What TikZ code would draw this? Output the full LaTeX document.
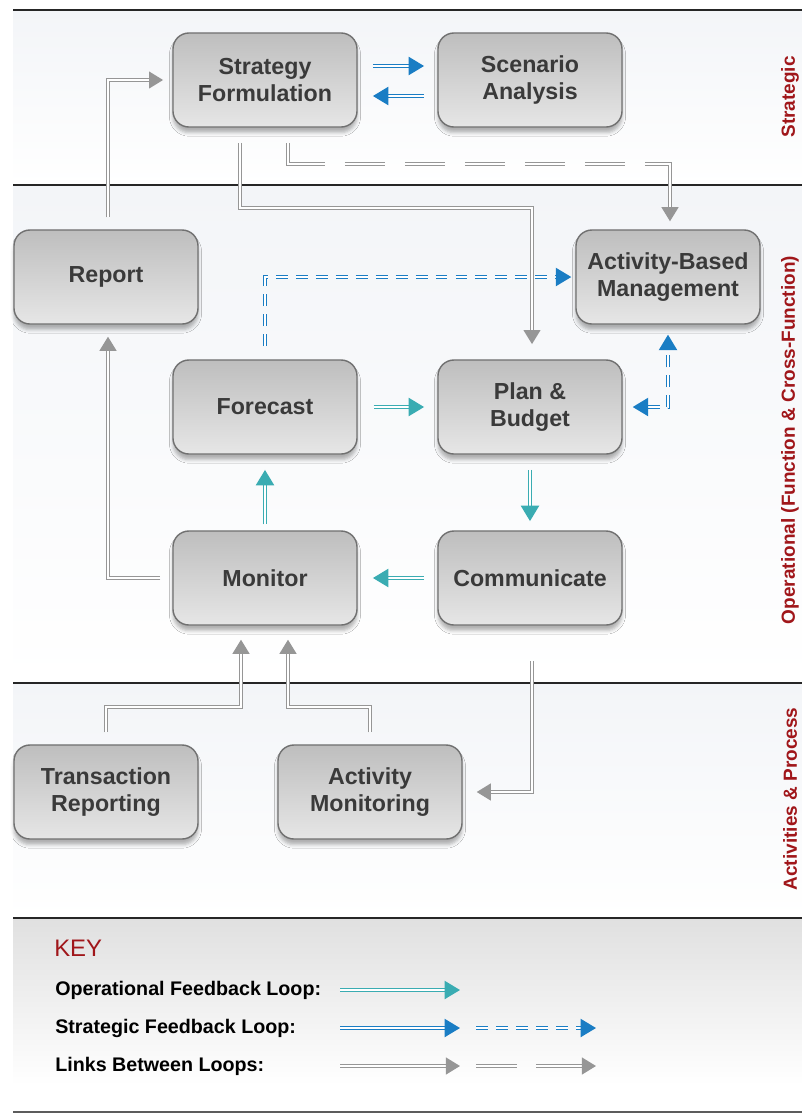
\documentclass[tikz,border=0pt]{standalone}
\usepackage{fontspec}
\setmainfont{Liberation Sans}
\usepackage{tikz}
\usetikzlibrary{arrows.meta,shadows.blur}

\definecolor{opercol}{RGB}{58,172,178}
\definecolor{stratcol}{RGB}{26,125,196}
\definecolor{linkcol}{RGB}{150,150,150}
\definecolor{lblred}{RGB}{160,22,26}
\definecolor{boxedge}{RGB}{112,112,112}
\definecolor{boxtop}{RGB}{190,190,190}
\definecolor{boxbot}{RGB}{230,230,230}
\definecolor{boxtext}{RGB}{58,58,58}
\definecolor{bandtop}{RGB}{243,245,248}
\definecolor{keytop}{RGB}{224,224,224}
\definecolor{rulecol}{RGB}{38,38,38}

\tikzset{
  box/.style={draw=boxedge, line width=1pt, rounded corners=0.4cm,
    top color=boxtop, bottom color=boxbot,
    minimum width=4.6cm, minimum height=2.35cm, align=center,
    font=\bfseries\fontsize{16.5}{19.8}\selectfont, text=boxtext,
    blur shadow={shadow xshift=0pt, shadow yshift=-4pt, shadow blur radius=2.5pt, shadow opacity=30}},
  dbl/.style={line width=1.05pt, double=white, double distance=1.2pt},
  operarrow/.style={dbl, draw=opercol, -{Triangle[length=11pt,width=13pt]}},
  stratarrow/.style={dbl, draw=stratcol, -{Triangle[length=11pt,width=13pt]}},
  linkarrow/.style={dbl, draw=linkcol, -{Triangle[length=10pt,width=12pt]}},
  stratdash/.style={stratarrow, dash pattern=on 8.5pt off 5.7pt},
  rulebar/.style={draw=rulecol, line width=2.1pt},
  band/.style={top color=bandtop, bottom color=white},
  side/.style={rotate=90, text=lblred, font=\bfseries\fontsize{13.5}{16}\selectfont},
  keytext/.style={anchor=west, inner sep=0pt, font=\bfseries\fontsize{14}{17}\selectfont}
}

\begin{document}
\begin{tikzpicture}[x=0.025cm, y=-0.025cm]
\useasboundingbox (0,0) rectangle (802,1114);

% 背景
\fill[band] (13,10) rectangle (802,185);
\fill[band] (13,185) rectangle (802,683);
\fill[band] (13,683) rectangle (802,918);
\fill[top color=keytop, bottom color=white] (13,918) rectangle (802,1085);

% 分隔线
\draw[rulebar] (13,10) -- (802,10);
\draw[rulebar] (13,185) -- (802,185);
\draw[rulebar] (13,683) -- (802,683);
\draw[rulebar] (13,918) -- (802,918);
\draw[draw=rulecol!75, line width=1.4pt] (13,1112) -- (802,1112);

% 方框
\node[box] (sf) at (265,80) {Strategy\\Formulation};
\node[box] (sa) at (530,80) {Scenario\\Analysis};
\node[box] (rep) at (106,277) {Report};
\node[box] (abm) at (668,277) {Activity-Based\\Management};
\node[box] (fc) at (265,407) {Forecast};
\node[box] (pb) at (530,407) {Plan \&\\Budget};
\node[box] (mon) at (265,578) {Monitor};
\node[box] (com) at (530,578) {Communicate};
\node[box] (tr) at (106,792) {Transaction\\Reporting};
\node[box] (am) at (370,792) {Activity\\Monitoring};

% 拐点
\coordinate (bend1) at (400,208);
\coordinate (bend2) at (450,164);
\coordinate (bend3) at (170,707);
\coordinate (bend4) at (330,707);

% 战略回路
\draw[stratarrow, shorten <=0.38cm, shorten >=0.33cm] ([yshift=0.35cm]sf.east) -- ([yshift=0.35cm]sa.west);
\draw[stratarrow, shorten <=0.33cm, shorten >=0.38cm] ([yshift=-0.4cm]sa.west) -- ([yshift=-0.4cm]sf.east);
\draw[stratdash, shorten <=0.33cm, shorten >=0.1cm] (fc.north) |- (abm.west);
\draw[stratdash, {Triangle[length=11pt,width=13pt]}-{Triangle[length=11pt,width=13pt]},
  shorten <=0.25cm, shorten >=0.25cm] (pb.east) -| (abm.south);

% 运营回路
\draw[operarrow, shorten <=0.4cm, shorten >=0.33cm] (fc.east) -- (pb.west);
\draw[operarrow, shorten <=0.38cm, shorten >=0.23cm] (pb.south) -- (com.north);
\draw[operarrow, shorten <=0.33cm, shorten >=0.38cm] (com.west) -- (mon.east);
\draw[operarrow, shorten <=0.15cm, shorten >=0.38cm] (mon.north) -- (fc.south);

% 回路之间的连接
\draw[linkarrow, shorten <=0.3cm, shorten >=0.23cm] ([xshift=0.05cm]rep.north) |- (sf.west);
\draw[linkarrow, shorten <=0.38cm, shorten >=0.38cm] ([xshift=-0.625cm]sf.south) |- (bend1) -| ([xshift=0.05cm]pb.north);
\draw[linkarrow, shorten <=0.38cm, shorten >=0.2cm,
  dash pattern=on 41.3pt off 14.2pt on 28.5pt off 14.2pt on 28.5pt off 14.2pt on 28.5pt off 14.2pt on 28.5pt off 14.2pt on 28.5pt off 14.2pt on 80pt]
  ([xshift=0.575cm]sf.south) |- (bend2) -| ([xshift=0.05cm]abm.north);
\draw[linkarrow, shorten <=0.3cm, shorten >=0.3cm] (mon.west) -| ([xshift=0.05cm]rep.south);
\draw[linkarrow, shorten <=0.3cm, shorten >=0.35cm] (tr.north) |- (bend3) -| ([xshift=-0.6cm]mon.south);
\draw[linkarrow, shorten <=0.3cm, shorten >=0.35cm] (am.north) |- (bend4) -| ([xshift=0.575cm]mon.south);
\draw[linkarrow, shorten <=0.88cm, shorten >=0.35cm] ([xshift=0.05cm]com.south) |- (am.east);

% 侧边文字
\node[side] (lblstrat) at (790,97) {Strategic};
\node[side] (lbloper) at (790,440) {Operational (Function \& Cross-Function)};
\node[side] (lblact) at (790,799) {Activities \& Process};

% 图例
\node[anchor=west, inner sep=0pt, text=lblred, font=\fontsize{17}{20}\selectfont] (keyhead) at (54,948) {KEY};
\node[keytext] (keyop) at (55,990) {Operational Feedback Loop:};
\node[keytext] (keyst) at (55,1028) {Strategic Feedback Loop:};
\node[keytext] (keyln) at (55,1066) {Links Between Loops:};

\coordinate (ka1) at (340,990);  \coordinate (ka2) at (460,990);
\coordinate (kb1) at (340,1028); \coordinate (kb2) at (460,1028);
\coordinate (kb3) at (476,1028); \coordinate (kb4) at (596,1028);
\coordinate (kc1) at (340,1066); \coordinate (kc2) at (460,1066);
\coordinate (kc3) at (476,1066); \coordinate (kc4) at (596,1066);

\draw[operarrow] (ka1) -- (ka2);
\draw[stratarrow] (kb1) -- (kb2);
\draw[stratdash] (kb3) -- (kb4);
\draw[linkarrow] (kc1) -- (kc2);
\draw[linkarrow, dash pattern=on 29.2pt off 13.5pt on 50pt] (kc3) -- (kc4);

\end{tikzpicture}
\end{document}
